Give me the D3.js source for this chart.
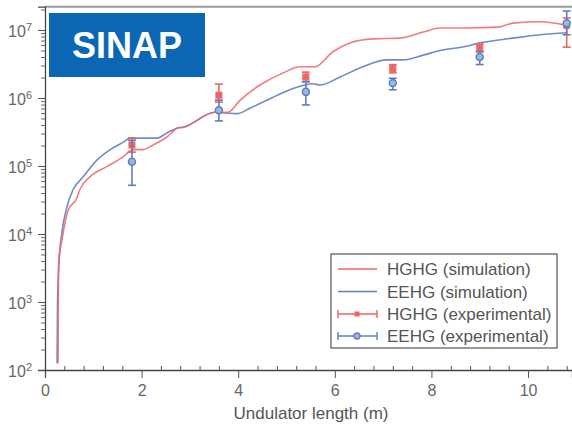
<!DOCTYPE html>
<html>
<head>
<meta charset="utf-8">
<script src="https://cdn.jsdelivr.net/npm/d3@7"></script>
<style>
  html, body { margin: 0; padding: 0; background: #fff; }
  svg { display: block; font-family: "Liberation Sans", Arial, sans-serif; }
</style>
</head>
<body>
<svg id="chart" width="572" height="425"></svg>
<script>
// ---------- data ----------
const hghgSimX = [0.27,0.28,0.35,0.48,0.66,0.72,0.93,1.28,1.61,1.82,2.03,2.24,2.53,2.75,2.86,3.52,3.79,4.04,4.45,4.93,5.28,5.59,5.96,6.31,6.79,7.35,7.83,8.18,8.65,9.36,9.69,10.25,10.81];
const hghgSimY = [126,3720,8130,22400,33900,44700,69200,97700,135000,174000,174000,204000,269000,363000,372000,617000,617000,933000,1.55e6,2.34e6,2.88e6,2.88e6,4.79e6,6.46e6,7.41e6,7.59e6,9.33e6,1.07e7,1.07e7,1.10e7,1.26e7,1.32e7,1.17e7];

const eehgSimX = [0.25,0.26,0.29,0.35,0.455,0.58,0.79,1.08,1.35,1.62,1.76,2.32,2.53,2.75,2.86,3.52,3.98,4.24,4.60,5.07,5.55,5.69,6.11,6.58,7.08,7.41,7.83,8.18,8.65,9.01,9.69,10.25,10.81];
const eehgSimY = [126,1000,3720,10500,25100,44700,69200,123000,174000,224000,257000,257000,309000,363000,372000,617000,589000,708000,933000,1.32e6,1.62e6,1.55e6,2.04e6,2.88e6,3.63e6,3.63e6,4.27e6,5.0e6,5.62e6,6.46e6,7.59e6,8.51e6,9.12e6];

const expX = [1.8, 3.6, 5.4, 7.2, 9.0, 10.8];
const hghgExp  = [2.04e5, 1.1e6, 2.04e6, 2.7e6, 5.4e6, 1.17e7];
const hghgLow  = [1.6e5, 8.7e5, 1.74e6, 2.34e6, 4.8e6, 5.6e6];
const hghgHigh = [2.6e5, 1.6e6, 2.4e6, 3.1e6, 6.2e6, 1.5e7];
const eehgExp  = [1.15e5, 6.6e5, 1.23e6, 1.66e6, 4.0e6, 1.26e7];
const eehgLow  = [5.2e4, 4.6e5, 7.9e5, 1.32e6, 3.1e6, 8.5e6];
const eehgHigh = [2.4e5, 9.3e5, 1.74e6, 1.95e6, 4.8e6, 1.9e7];

const xTicks = [0, 2, 4, 6, 8, 10];
const yTickExps = [2, 3, 4, 5, 6, 7];
const legendLabels = ["HGHG (simulation)", "EEHG (simulation)", "HGHG (experimental)", "EEHG (experimental)"];
const xTitle = "Undulator length (m)";
const badge = "SINAP";

// ---------- setup ----------
const RED = "#f06464", BLUE = "#5b7fc2";
const svg = d3.select("#chart");
const x = d3.scaleLinear().domain([0, 10.91]).range([45, 572]);
const y = d3.scaleLog().domain([100, 2.2e7]).range([370, 6.7]);

// clip
svg.append("clipPath").attr("id", "clip").append("rect")
  .attr("x", x(0)).attr("y", y(2.2e7)).attr("width", x(10.91) - x(0)).attr("height", y(100) - y(2.2e7));

// top frame line
svg.append("line").attr("x1", x(0)).attr("x2", 572).attr("y1", y(2.2e7)).attr("y2", y(2.2e7))
  .attr("stroke", "#9a9a9a").attr("stroke-width", 2);

// x axis major
const gx = svg.append("g").attr("transform", `translate(0,${y(100)})`)
  .call(d3.axisBottom(x).tickValues(xTicks).tickSize(8).tickPadding(7).tickFormat(d3.format("d")));
gx.select(".domain").attr("stroke", "#444").attr("stroke-width", 1.3);
gx.selectAll(".tick line").attr("stroke", "#555");
gx.selectAll("text").attr("fill", "#666").style("font-size", "16px").style("font-family", "Liberation Sans, Arial, sans-serif");
// x minor
const xMinor = d3.range(0, 10.95, 0.4).filter(v => xTicks.indexOf(+v.toFixed(1)) < 0);
svg.append("g").attr("transform", `translate(0,${y(100)})`)
  .call(d3.axisBottom(x).tickValues(xMinor).tickSize(-4).tickFormat(""))
  .call(g => g.select(".domain").remove())
  .selectAll(".tick line").attr("stroke", "#555");

// y axis major
const yMajor = yTickExps.map(e => Math.pow(10, e));
const gy = svg.append("g").attr("transform", `translate(${x(0)},0)`)
  .call(d3.axisLeft(y).tickValues(yMajor).tickSize(7).tickFormat(""));
gy.select(".domain").attr("stroke", "#444").attr("stroke-width", 1.3);
gy.selectAll(".tick line").attr("stroke", "#555");
// y minor
const yMinor = [];
yTickExps.forEach(e => { for (let m = 2; m <= 9; m++) { const v = m * Math.pow(10, e); if (v <= 2.2e7) yMinor.push(v); } });
svg.append("g").attr("transform", `translate(${x(0)},0)`)
  .call(d3.axisLeft(y).tickValues(yMinor).tickSize(4).tickFormat(""))
  .call(g => g.select(".domain").remove())
  .selectAll(".tick line").attr("stroke", "#666");

// y labels with superscripts
yTickExps.forEach((e, i) => {
  const t = svg.append("text").attr("x", 32).attr("y", y(yMajor[i]) + 7)
    .attr("text-anchor", "end").attr("fill", "#666").style("font-size", "16px");
  t.append("tspan").text("10");
  t.append("tspan").attr("dy", -6).style("font-size", "11px").text(String(e));
});

// axis title
svg.append("text").attr("x", 311).attr("y", 419).attr("text-anchor", "middle")
  .attr("fill", "#555").style("font-size", "17px").text(xTitle);

// ---------- curves ----------
const plot = svg.append("g").attr("clip-path", "url(#clip)");
const line = d3.line().x(d => x(d[0])).y(d => y(d[1])).curve(d3.curveMonotoneX);
plot.append("path").datum(eehgSimX.map((v, i) => [v, eehgSimY[i]]))
  .attr("d", line).attr("fill", "none").attr("stroke", BLUE).attr("stroke-width", 1.6).attr("opacity", 0.9);
plot.append("path").datum(hghgSimX.map((v, i) => [v, hghgSimY[i]]))
  .attr("d", line).attr("fill", "none").attr("stroke", RED).attr("stroke-width", 1.6).attr("opacity", 0.85);

// ---------- experimental ----------
function errorBars(vals, lo, hi, color, shape) {
  const g = svg.append("g");
  expX.forEach((xv, i) => {
    const cx = x(xv);
    g.append("line").attr("x1", cx).attr("x2", cx).attr("y1", y(lo[i])).attr("y2", y(hi[i]))
      .attr("stroke", color).attr("stroke-width", 1.6);
    [lo[i], hi[i]].forEach(v => g.append("line").attr("x1", cx - 4).attr("x2", cx + 4)
      .attr("y1", y(v)).attr("y2", y(v)).attr("stroke", color).attr("stroke-width", 1.6));
    if (shape === "square") {
      g.append("rect").attr("x", cx - 3).attr("y", y(vals[i]) - 3).attr("width", 6).attr("height", 6)
        .attr("fill", color).attr("stroke", color);
    } else {
      g.append("circle").attr("cx", cx).attr("cy", y(vals[i])).attr("r", 3.5)
        .attr("fill", "#9fb6e0").attr("stroke", color).attr("stroke-width", 1.5);
    }
  });
}
errorBars(hghgExp, hghgLow, hghgHigh, RED, "square");
errorBars(eehgExp, eehgLow, eehgHigh, BLUE, "circle");

// ---------- legend ----------
const lg = svg.append("g");
lg.append("rect").attr("x", 331).attr("y", 254).attr("width", 226).attr("height", 94)
  .attr("fill", "#fff").attr("stroke", "#555").attr("stroke-width", 1.2);
const rowY = [269, 291.5, 314, 336];
const legColors = [RED, BLUE, RED, BLUE];
legendLabels.forEach((lab, i) => {
  const yy = rowY[i];
  lg.append("line").attr("x1", 338).attr("x2", 377).attr("y1", yy).attr("y2", yy)
    .attr("stroke", legColors[i]).attr("stroke-width", 1.6);
  if (i >= 2) {
    [338, 377].forEach(xx => lg.append("line").attr("x1", xx).attr("x2", xx).attr("y1", yy - 4).attr("y2", yy + 4)
      .attr("stroke", legColors[i]).attr("stroke-width", 1.4));
    if (i === 2) lg.append("rect").attr("x", 354.5).attr("y", yy - 2.5).attr("width", 5).attr("height", 5).attr("fill", RED);
    else lg.append("circle").attr("cx", 357).attr("cy", yy).attr("r", 3).attr("fill", "#9fb6e0").attr("stroke", BLUE).attr("stroke-width", 1.3);
  }
  lg.append("text").attr("x", 387).attr("y", yy + 6).attr("fill", "#555").style("font-size", "17px").text(lab);
});

// ---------- badge ----------
svg.append("rect").attr("x", 49).attr("y", 13).attr("width", 156).attr("height", 64).attr("fill", "#0b66b4");
svg.append("text").attr("x", 127).attr("y", 58).attr("text-anchor", "middle").attr("fill", "#fff")
  .style("font-size", "36px").style("font-weight", "bold").text(badge);
</script>
</body>
</html>
